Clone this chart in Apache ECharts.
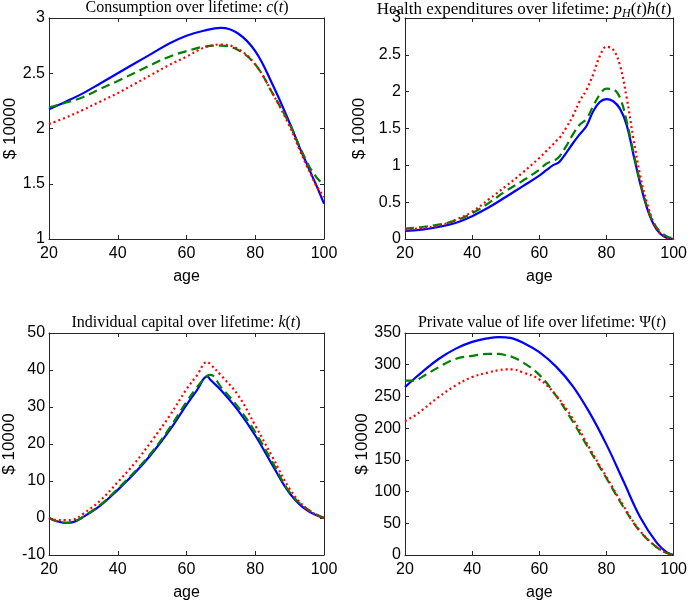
<!DOCTYPE html>
<html><head><meta charset="utf-8">
<script src="https://cdn.jsdelivr.net/npm/echarts@6/dist/echarts.min.js"></script>
<style>html,body{margin:0;padding:0;background:#fff}#c{width:690px;height:603px}</style>
</head><body><div id="c"></div>
<script>
// ---------- data ----------
const agesC = [20,25,30,35,40,45,50,55,60,65,70,75,80,85,90,93,95,96,97,98,100];
const cBlue  = [2.175,2.245,2.32,2.41,2.50,2.59,2.68,2.77,2.84,2.885,2.91,2.86,2.70,2.40,2.05,1.82,1.68,1.61,1.54,1.47,1.32];
const cGreen = [2.19,2.235,2.285,2.36,2.43,2.505,2.58,2.65,2.70,2.74,2.75,2.71,2.58,2.32,2.04,1.83,1.70,1.64,1.60,1.55,1.49];
const cRed   = [2.04,2.10,2.17,2.245,2.32,2.405,2.49,2.575,2.65,2.73,2.76,2.72,2.58,2.32,2.02,1.80,1.66,1.60,1.53,1.47,1.38];

const agesH = [20,25,30,35,40,45,50,55,60,62,64,65,66,68,70,72,74,76,78,80,82,84,86,88,90,92,94,96,98,100];
const hBlue  = [0.11,0.127,0.163,0.217,0.31,0.43,0.57,0.715,0.86,0.93,1.0,1.02,1.05,1.17,1.30,1.42,1.53,1.73,1.86,1.90,1.87,1.77,1.55,1.15,0.76,0.43,0.20,0.07,0.015,0];
const hGreen = [0.14,0.163,0.195,0.25,0.35,0.49,0.65,0.79,0.94,1.02,1.06,1.08,1.12,1.26,1.42,1.55,1.63,1.80,1.96,2.04,2.03,1.92,1.60,1.18,0.78,0.45,0.22,0.10,0.035,0.01];
const hRed   = [0.125,0.15,0.18,0.26,0.37,0.54,0.715,0.90,1.10,1.19,1.28,1.33,1.37,1.51,1.67,1.87,2.02,2.23,2.48,2.61,2.57,2.36,1.92,1.37,0.87,0.50,0.23,0.08,0.02,0];

const agesK = [20,22,25,27,30,35,40,45,50,55,60,63,66,67,70,75,80,85,90,95,100];
const kBlue  = [0,-0.8,-1.3,-1.1,0.3,3.4,7.6,12.2,17.5,23.6,30.6,34.5,38.3,37.3,34.6,29.1,22.3,14.3,6.7,2.1,0];
const kGreen = [0,-0.8,-1.3,-1.1,0.4,3.6,7.9,12.6,17.9,24.2,31.4,35.3,38.4,38.7,35.4,30.0,23.2,15.1,7.0,2.5,0];
const kRed   = [0,-0.5,-0.6,-0.45,1.2,4.8,9.7,14.9,21.0,27.5,34.8,38.5,42.2,41.5,38.6,33.2,25.0,16.5,7.9,2.5,0];

const agesP = [20,23,25,30,35,40,45,48,50,52,55,60,65,70,75,80,85,90,95,98,100];
const pBlue  = [264.7,279,288,309,325,336,342,343.5,343,341.5,335,320,297,266,224,174,117,60,19,4,0];
const pGreen = [275,275,280.5,296,309,314,317,317,315,312,304,284,251,210,165,121,76,37,12,3,0];
const pRed   = [211,220,228,249,267,280.5,288,291.5,292.6,292.6,288,277,251.6,214.7,168,123,78,38,12,3,0];

const xTicks = [20,40,60,80,100];
const yTicksC = [1,1.5,2,2.5,3];
const yTicksH = [0,0.5,1,1.5,2,2.5,3];
const yTicksK = [-10,0,10,20,30,40,50];
const yTicksP = [0,50,100,150,200,250,300,350];

const titles = [
  '{r|Consumption over lifetime: }{i|c}{r|(}{i|t}{r|)}',
  '{r|Health expenditures over lifetime: }{i|p}{s|H}{r|(}{i|t}{r|)}{i|h}{r|(}{i|t}{r|)}',
  '{r|Individual capital over lifetime: }{i|k}{r|(}{i|t}{r|)}',
  '{r|Private value of life over lifetime: Ψ(}{i|t}{r|)}'
];
const yName = '$ 10000';
const xName = 'age';

// ---------- layout ----------
const panels = [
  {grid:{left:49, top:18, width:275, height:221}, ages:agesC, s:[cBlue,cGreen,cRed], yt:yTicksC, tx:182, ty:4, gap:19, tf:16},
  {grid:{left:405, top:18, width:273, height:221}, ages:agesH, s:[hBlue,hGreen,hRed], yt:yTicksH, tx:519, ty:4, gap:37, tf:17},
  {grid:{left:49, top:333, width:275, height:222}, ages:agesK, s:[kBlue,kGreen,kRed], yt:yTicksK, tx:181, ty:319, gap:24, tf:16},
  {grid:{left:405, top:333, width:273, height:222}, ages:agesP, s:[pBlue,pGreen,pRed], yt:yTicksP, tx:537, ty:319, gap:34, tf:16}
];
const FONT = 'Liberation Sans, Arial, sans-serif';
const SERIF = 'Liberation Serif, Times New Roman, serif';
const AX = '#262626';
const styles = [
  {color:'#0000ff', type:'solid', width:2.2},
  {color:'#008000', type:[9,5], width:2.2},
  {color:'#ff0000', type:[2,3], width:2.2}
];

const grid = [], xAxis = [], yAxis = [], series = [], title = [];
panels.forEach((p, i) => {
  grid.push(Object.assign({containLabel:false}, p.grid));
  const yt = p.yt;
  const yInt = yt[1] - yt[0];
  const common = {axisLine:{show:true, onZero:false, lineStyle:{color:AX, width:1}},
    axisTick:{show:true, inside:true, length:4, lineStyle:{color:AX, width:1}},
    splitLine:{show:false}};
  xAxis.push(Object.assign({type:'value', gridIndex:i, position:'bottom', min:xTicks[0], max:xTicks[xTicks.length-1], interval:xTicks[1]-xTicks[0],
    axisLabel:{color:'#000', fontSize:16, fontFamily:FONT, margin:7},
    name:xName, nameLocation:'middle', nameGap:30, nameTextStyle:{color:'#000', fontSize:16, fontFamily:FONT}}, common));
  xAxis.push(Object.assign({type:'value', gridIndex:i, position:'top', min:xTicks[0], max:xTicks[xTicks.length-1], interval:xTicks[1]-xTicks[0],
    axisLabel:{show:false}}, common));
  yAxis.push(Object.assign({type:'value', gridIndex:i, position:'left', min:yt[0], max:yt[yt.length-1], interval:yInt,
    axisLabel:{color:'#000', fontSize:16, fontFamily:FONT, margin:4},
    name:yName, nameLocation:'middle', nameGap:p.gap, nameTextStyle:{color:'#000', fontSize:17, fontFamily:FONT}}, common));
  yAxis.push(Object.assign({type:'value', gridIndex:i, position:'right', min:yt[0], max:yt[yt.length-1], interval:yInt,
    axisLabel:{show:false}}, common));
  p.s.forEach((vals, j) => {
    series.push({type:'line', xAxisIndex:2*i, yAxisIndex:2*i, showSymbol:false, symbol:'none',
      smooth:0.4, z:2+j, animation:false,
      lineStyle:styles[j], data:p.ages.map((a,k)=>[a, vals[k]])});
  });
  const f = p.tf;
  title.push({text:titles[i], left:p.tx, top:p.ty - 9, textAlign:'center',
    textStyle:{fontWeight:'normal', fontSize:f, fontFamily:SERIF, color:'#000',
      rich:{r:{fontSize:f, fontFamily:SERIF, color:'#000'},
            i:{fontSize:f, fontFamily:SERIF, fontStyle:'italic', color:'#000'},
            s:{fontSize:Math.round(f*0.7), fontFamily:SERIF, fontStyle:'italic', color:'#000', padding:[8,0,0,0]}}}});
});

const chart = echarts.init(document.getElementById('c'), null, {renderer:'canvas'});
chart.setOption({animation:false, backgroundColor:'#fff', title, grid, xAxis, yAxis, series});
</script></body></html>
